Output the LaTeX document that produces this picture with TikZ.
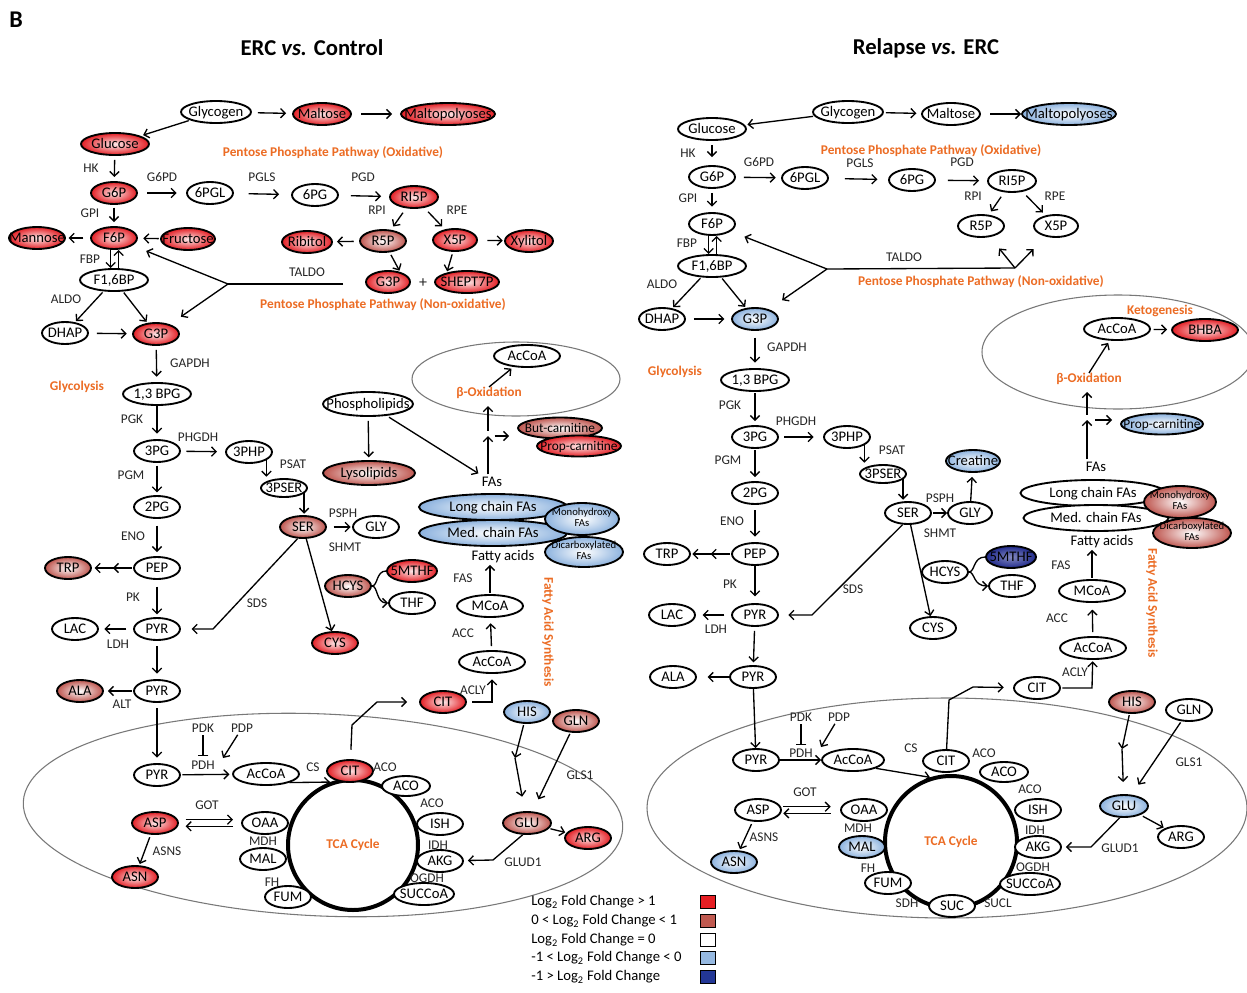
\documentclass[tikz,border=0pt]{standalone}
\usepackage{fontspec}
\setmainfont{Carlito}
\usetikzlibrary{shapes.geometric,arrows.meta}
\definecolor{hiR}{RGB}{228,30,36}
\definecolor{midR}{RGB}{190,85,78}
\definecolor{loB}{RGB}{140,178,222}
\definecolor{vloB}{RGB}{32,42,140}
\definecolor{orng}{RGB}{236,108,36}
\definecolor{mito}{RGB}{120,120,120}
\newcommand\zt[1]{\raisebox{-0.33em}[0pt][0pt]{\makebox[0pt]{#1}}}
\newcommand\ztt[1]{\raisebox{-0.25em}[0pt][0pt]{\makebox[0pt]{\begin{tabular}{@{}c@{}}#1\end{tabular}}}}
\newcommand\mnode[4]{\node[met,#1] (#2) at (#3) {\zt{#4}};}
\newcommand\mnodeB[4]{\node[met,#1] (#2) at (#3) {\ztt{#4}};}
\newcommand\lab[3]{\node[lab] (#1) at (#2) {#3};}
\newcommand\ora[4][]{\node[ora,#1] (#2) at (#3) {#4};}
\tikzset{
 met/.style={ellipse, draw, line width=1.4pt, fill=white, inner sep=0pt, minimum height=16.5pt, minimum width=34.5pt, font=\fontsize{11}{12}\selectfont},
 mw/.style={minimum width=#1*0.75pt},
 mh/.style={minimum height=#1*0.75pt},
 cHi/.style={shade, shading=radial, inner color=hiR!10!white, outer color=hiR},
 cMid/.style={shade, shading=radial, inner color=white, outer color=midR},
 cLo/.style={shade, shading=radial, inner color=white, outer color=loB},
 cVlo/.style={shade, shading=radial, inner color=vloB!55!white, outer color=vloB},
 fsmall/.style={font=\fontsize{8}{8.5}\selectfont},
 fsten/.style={font=\fontsize{10}{11}\selectfont},
 lab/.style={inner sep=0pt, font=\fontsize{10}{11}\selectfont, text=black!85},
 ora/.style={inner sep=0pt, font=\bfseries\fontsize{10}{11}\selectfont, text=orng},
 txt/.style={inner sep=0pt, font=\fontsize{11}{12}\selectfont},
 arr/.style={line width=1pt, -{Straight Barb[length=3.5pt,width=7pt]}},
 ln/.style={line width=1pt},
 dbl/.style={line width=1pt, -{Straight Barb[length=3.5pt,width=7pt,sep=9pt]Straight Barb[length=3.5pt,width=7pt]}},
 inh/.style={line width=1pt, -{Bar[width=8pt]}},
 mitoE/.style={draw=mito, line width=0.8pt},
 tca/.style={circle, draw, line width=3pt, inner sep=0pt, font=\bfseries\fontsize{10}{11}\selectfont, text=orng},
 swatch/.style={draw, line width=0.6pt, minimum width=11pt, minimum height=10pt, inner sep=0pt},
 leg/.style={inner sep=0pt, anchor=west, font=\fontsize{11}{12}\selectfont},
 sa/.style={shorten <=#1},
 sb/.style={shorten >=#1},
}
\begin{document}
\begin{tikzpicture}[x=0.75pt,y=-0.75pt]
\useasboundingbox (0,0) rectangle (1247,993);
\fill[white] (0,0) rectangle (1247,993);

% ---------- titles
\node[inner sep=0pt, font=\bfseries\fontsize{18}{20}\selectfont] (B) at (16,20) {B};
\node[inner sep=0pt, font=\bfseries\fontsize{17}{20}\selectfont] (T1) at (312,48) {ERC \textit{vs.} Control};
\node[inner sep=0pt, font=\bfseries\fontsize{17}{20}\selectfont] (T2) at (926,48) {Relapse \textit{vs.} ERC};

% ---------- compartments
\draw[mitoE, rotate around={-2.5:(323,815)}] (323,815) ellipse [x radius=300, y radius=101];
\draw[mitoE] (947,808) ellipse [x radius=300, y radius=110];
\draw[mitoE] (516,379) ellipse [x radius=104, y radius=37];
\draw[mitoE] (1118,352) ellipse [x radius=136, y radius=57];
\node[tca, minimum size=97.5pt] (LTCA) at (353,845) {TCA Cycle};
\node[tca, minimum size=99pt] (RTCA) at (951,842) {TCA Cycle};

% =================== LEFT PANEL ===================
\mnode{mw=70}{LGlyc}{216,112}{Glycogen}
\mnode{mw=58,cHi}{LMalt}{322,114}{Maltose}
\mnode{mw=94,cHi}{LMaltp}{448,114}{Maltopolyoses}
\mnode{mw=68,cHi}{LGlc}{115,144}{Glucose}
\mnode{mw=46,cHi}{LG6P}{114,193}{G6P}
\mnode{mw=46}{L6PGL}{210,193}{6PGL}
\mnode{mw=46}{L6PG}{315,195}{6PG}
\mnode{mw=48,cHi}{LRI5P}{414,197}{RI5P}
\mnode{mw=46,cMid}{LR5P}{383,241}{R5P}
\mnode{mw=44,cHi}{LX5P}{455,240}{X5P}
\mnode{mw=50,cHi}{LRib}{307,242}{Ribitol}
\mnode{mw=48,cHi}{LXyl}{529,241}{Xylitol}
\mnode{mw=44,cHi}{LG3Pp}{388,282}{G3P}
\mnode{mw=64,cHi}{LSH7P}{467,282}{SHEPT7P}
\mnode{mw=56,cHi}{LMan}{37,238}{Mannose}
\mnode{mw=46,cHi}{LF6P}{114,238}{F6P}
\mnode{mw=54,cHi}{LFru}{188,239}{Fructose}
\mnode{mw=68}{LF16}{114,280}{F1,6BP}
\mnode{mw=46}{LDHAP}{65,333}{DHAP}
\mnode{mw=46,cHi}{LG3P}{156,334}{G3P}
\mnode{mw=68}{LBPG}{157,394}{1,3 BPG}
\mnode{mw=46}{L3PG}{157,451}{3PG}
\mnode{mw=46}{L3PHP}{249,452}{3PHP}
\mnode{mw=46,mh=18}{L3PSER}{284,488}{3PSER}
\mnode{mw=46,cMid}{LSER}{303,527}{SER}
\mnode{mw=46}{LGLY}{376,527}{GLY}
\mnode{mw=46}{L2PG}{157,507}{2PG}
\mnode{mw=46}{LPEP}{157,568}{PEP}
\mnode{mw=46,cMid}{LTRP}{68,568}{TRP}
\mnode{mw=46}{LPYR}{157,629}{PYR}
\mnode{mw=46}{LLAC}{75,629}{LAC}
\mnode{mw=46,cHi}{LCYS}{335,643}{CYS}
\mnode{mw=46}{LPYR2}{157,691}{PYR}
\mnode{mw=46,cMid}{LALA}{80,691}{ALA}
\mnode{mw=46}{LPYR3}{157,775}{PYR}
\mnode{mw=66}{LAcCoA}{266,774}{AcCoA}
\mnode{mw=46,cHi}{LCIT}{350,771}{CIT}
\mnode{mw=48,mh=20}{LACO}{406,786}{ACO}
\mnode{mw=46}{LISH}{440,824}{ISH}
\mnode{mw=46}{LAKG}{440,861}{AKG}
\mnode{mw=60}{LSUCCoA}{424,894}{SUCCoA}
\mnode{mw=46}{LOAA}{265,823}{OAA}
\mnode{mw=46}{LMAL}{263,859}{MAL}
\mnode{mw=46}{LFUM}{288,897}{FUM}
\mnode{mw=46,cHi}{LASP}{155,823}{ASP}
\mnode{mw=46,cHi}{LASN}{135,877}{ASN}
\mnode{mw=46,cHi}{LCIT2}{443,702}{CIT}
\mnode{mw=66}{LAcCoA2}{492,662}{AcCoA}
\mnode{mw=66}{LMCoA}{490,606}{MCoA}
\mnode{mw=148,mh=26,cLo}{LLong}{493,507}{Long chain FAs}
\mnode{mw=148,mh=26,cLo}{LMed}{493,533}{Med. chain FAs}
\mnodeB{mw=74,mh=32,cLo,fsmall}{LMono}{582,519}{Monohydroxy\\FAs}
\mnodeB{mw=78,mh=30,cLo,fsmall}{LDicarb}{584,552}{Dicarboxylated\\FAs}
\mnode{mw=84,mh=21,cMid,fsten}{LBut}{560,428}{But-carnitine}
\mnode{mw=84,mh=21,cHi,fsten}{LProp}{579,446}{Prop-carnitine}
\mnode{mw=66}{LAcCoA3}{527,356}{AcCoA}
\mnode{mw=90,mh=24}{LPhos}{368,404}{Phospholipids}
\mnode{mw=92,mh=24,cMid}{LLyso}{369,473}{Lysolipids}
\mnode{mw=46,cMid}{LHCYS}{348,586}{HCYS}
\mnode{mw=50,cHi}{L5MTHF}{412,571}{5MTHF}
\mnode{mw=46}{LTHF}{412,603}{THF}
\mnode{mw=46,cLo}{LHIS}{527,712}{HIS}
\mnode{mw=46,cMid}{LGLN}{576,721}{GLN}
\mnode{mw=48,cMid}{LGLU}{527,823}{GLU}
\mnode{mw=46,cHi}{LARG}{588,838}{ARG}
\node[txt] (LFAs) at (492,482) {FAs};
\node[txt] (LFAtext) at (503,557) {Fatty acids};

% left labels
\lab{LlHK}{91,168}{HK}
\lab{LlG6PD}{162,177}{G6PD}
\lab{LlPGLS}{262,177}{PGLS}
\lab{LlPGD}{363,177}{PGD}
\lab{LlRPI}{377,210}{RPI}
\lab{LlRPE}{457,210}{RPE}
\lab{LlTALDO}{307,272}{TALDO}
\lab{LlGPI}{90,213}{GPI}
\lab{LlFBP}{90,259}{FBP}
\lab{LlALDO}{66,299}{ALDO}
\lab{LlGAPDH}{190,363}{GAPDH}
\lab{LlPGK}{132,419}{PGK}
\lab{LlPHGDH}{198,437}{PHGDH}
\lab{LlPSAT}{293,464}{PSAT}
\lab{LlPGM}{131,475}{PGM}
\lab{LlENO}{133,536}{ENO}
\lab{LlPSPH}{343,513}{PSPH}
\lab{LlSHMT}{345,547}{SHMT}
\lab{LlPK}{133,597}{PK}
\lab{LlSDS}{257,603}{SDS}
\lab{LlLDH}{118,644}{LDH}
\lab{LlALT}{122,704}{ALT}
\lab{LPDK}{203,728}{PDK}
\lab{LPDP}{242,728}{PDP}
\lab{LlPDH}{203,765}{PDH}
\lab{LlCS}{313,767}{CS}
\lab{LlACOa}{385,767}{ACO}
\lab{LlACOb}{432,803}{ACO}
\lab{LlIDH}{438,845}{IDH}
\lab{LlOGDH}{427,878}{OGDH}
\lab{LlGOT}{207,805}{GOT}
\lab{LlMDH}{263,841}{MDH}
\lab{LlFH}{272,882}{FH}
\lab{LlASNS}{167,851}{ASNS}
\lab{LlACC}{463,633}{ACC}
\lab{LlFAS}{463,578}{FAS}
\lab{LlACLY}{473,690}{ACLY}
\lab{LlGLS}{580,775}{GLS1}
\lab{LlGLUD}{523,862}{GLUD1}
\node[lab, font=\fontsize{12}{12}\selectfont] (Lplus) at (423,283) {+};
\ora{LoPPPa}{333,153}{Pentose Phosphate Pathway (Oxidative)}
\ora{LoPPPb}{383,305}{Pentose Phosphate Pathway (Non-oxidative)}
\ora{LoGly}{77,387}{Glycolysis}
\ora{Lbeta}{489,393}{β-Oxidation}
\ora[rotate=-90]{LoFAS}{548,632}{Fatty Acid Synthesis}

% left coordinates
\coordinate (Ltald) at (343,284);
\coordinate (Lfork) at (228,284);
\coordinate (Lsds) at (213,629);
\coordinate (LpdkE) at (203,756);
\coordinate (LpdpE) at (223,758);
\coordinate (Lcb1) at (352,725);
\coordinate (Lcb2) at (377,702);
\coordinate (Lacly) at (492,702);
\coordinate (Lbx) at (488,436);
\coordinate (Lbtop) at (488,406);
\coordinate (LhisM) at (515,758);
\coordinate (Lglud) at (493,860);

% left connectors
\draw[arr,sa=4.5pt,sb=4.5pt] (LGlyc) -- (LMalt);
\draw[arr,sa=7pt,sb=6pt] (LMalt) -- (LMaltp);
\draw[arr,sa=1pt,sb=2pt] (LGlyc) -- (LGlc);
\draw[arr,sa=3pt,sb=3pt] (LGlc) -- (LG6P);
\draw[arr,sa=7pt,sb=7pt] (LG6P) -- (L6PGL);
\draw[arr,sa=11pt,sb=9pt] (L6PGL) -- (L6PG);
\draw[arr,sa=9pt,sb=6pt] (L6PG) -- (LRI5P);
\draw[arr,sa=4pt,sb=3pt] (LRI5P) -- (LR5P);
\draw[arr,sa=4pt,sb=3pt] (LRI5P) -- (LX5P);
\draw[arr,sa=4pt,sb=3pt] (LR5P) -- (LRib);
\draw[arr,sa=7pt,sb=1pt] (LX5P) -- (LXyl);
\draw[arr,sa=2pt,sb=1pt] (LR5P.-60) -- (LG3Pp.40);
\draw[arr,sa=2pt,sb=1pt] (LX5P.-100) -- (LSH7P.155);
\draw[ln] (Ltald) -- (Lfork);
\draw[arr,sb=11pt] (Lfork) -- (LF6P);
\draw[arr,sb=10pt] (Lfork) -- (LG3P);
\draw[arr,sa=5pt,sb=2pt] (LF6P) -- (LMan);
\draw[arr,sa=1pt,sb=4pt] (LFru) -- (LF6P);
\draw[arr,sa=2pt,sb=3pt] (LG6P) -- (LF6P);
\draw[arr] ([xshift=-2.5pt]LF6P.south) -- ([xshift=-2.5pt]LF16.north);
\draw[arr] ([xshift=3.5pt]LF16.north) -- ([xshift=3.5pt]LF6P.south);
\draw[arr,sa=1pt,sb=1pt] (LF16) -- (LDHAP);
\draw[arr,sa=1pt,sb=1pt] (LF16) -- (LG3P);
\draw[arr,sa=6pt,sb=4pt] (LDHAP) -- (LG3P);
\draw[arr,sa=3pt,sb=4pt] (LG3P) -- (LBPG);
\draw[arr,sb=4pt] (LBPG) -- (L3PG);
\draw[arr,sa=4pt,sb=6pt] (L3PG) -- (L3PHP);
\draw[arr,sb=1pt] (L3PHP.-25) -- (L3PHP.-25 |- L3PSER.north);
\draw[arr,sb=1pt] (L3PSER.-15) -- (L3PSER.-15 |- LSER.north);
\draw[arr,sa=5pt,sb=1pt] (LSER) -- (LGLY);
\draw[arr,sa=2pt,sb=2pt] (L3PG) -- (L2PG);
\draw[arr,sa=5pt,sb=3pt] (L2PG) -- (LPEP);
\draw[dbl,sa=1pt,sb=2pt] (LPEP) -- (LTRP);
\draw[arr,sa=5pt,sb=2pt] (LPEP) -- (LPYR);
\draw[arr,sa=5pt,sb=4pt] (LPYR) -- (LLAC);
\draw[arr] (LSER) -- (LCYS);
\draw[arr,sb=8pt] (LSER.-115) -- (Lsds) -- (LPYR);
\draw[arr,sa=4pt,sb=4pt] (LPYR) -- (LPYR2);
\draw[arr,sa=1pt,sb=3pt] (LPYR2) -- (LALA);
\draw[arr,sa=4pt,sb=4pt] (LPYR2) -- (LPYR3);
\draw[inh,sa=2pt] (LPDK) -- (LpdkE);
\draw[arr,sa=2pt] (LPDP) -- (LpdpE);
\draw[arr,sa=1pt,sb=2pt] (LPYR3) -- (LAcCoA);
\draw[arr] (LAcCoA.-20) -- (LTCA.110);
\draw[arr,sa=7pt,sb=9pt] (LCIT) -- (Lcb1) -- (Lcb2) -- (LCIT2);
\draw[arr,sa=4pt,sb=4pt] (LCIT2) -- (Lacly) -- (LAcCoA2);
\draw[arr,sa=3pt,sb=4pt] (LAcCoA2) -- (LMCoA);
\draw[arr,sa=1pt,sb=1pt] (LMCoA.north) -- (LMCoA.north |- LFAtext.south);
\draw[arr,sa=2pt] (Lbx |- LFAs.north) -- (Lbx);
\draw[arr,sa=4pt] (Lbx) -- (Lbtop);
\draw[arr,sa=5pt,sb=6pt] (Lbx) -- (Lbx -| LBut.west);
\draw[arr,sb=2pt] (Lbeta.north) -- (LAcCoA3);
\draw[arr,sa=3pt,sb=2pt] (LPhos) -- (LLyso);
\draw[arr,sa=2pt,sb=5pt] (LPhos) -- (LFAs);
\draw[ln] (LHCYS.east) .. controls (378,586) and (376,571) .. (L5MTHF.west);
\draw[arr] (LHCYS.east) .. controls (378,586) and (376,603) .. (LTHF.west);
\draw[arr,sa=1pt] (LHIS) -- (LhisM);
\draw[arr,sb=11pt] (LhisM) -- (LGLU);
\draw[arr,sa=1pt,sb=10pt] (LGLN) -- (LGLU);
\draw[arr,sa=1pt,sb=1pt] (LGLU) -- (LARG);
\draw[arr,sb=3pt] (LGLU.-110) -- (Lglud) -- (LAKG);
\draw[arr,sa=5pt,sb=6pt] ([yshift=2.5pt]LASP.east) -- ([yshift=2.5pt]LOAA.west);
\draw[arr,sa=6pt,sb=5pt] ([yshift=-2.5pt]LOAA.west) -- ([yshift=-2.5pt]LASP.east);
\draw[arr,sa=2pt,sb=1pt] (LASP) -- (LASN);

% =================== RIGHT PANEL ===================
\mnode{mw=70}{RGlyc}{848,112}{Glycogen}
\mnode{mw=58}{RMalt}{951,114}{Maltose}
\mnode{mw=94,cLo}{RMaltp}{1069,114}{Maltopolyoses}
\mnode{mw=68}{RGlc}{712,129}{Glucose}
\mnode{mw=46}{RG6P}{712,177}{G6P}
\mnode{mw=46}{R6PGL}{805,178}{6PGL}
\mnode{mw=46}{R6PG}{912,180}{6PG}
\mnode{mw=48}{RRI5P}{1012,181}{RI5P}
\mnode{mw=46}{RR5P}{981,226}{R5P}
\mnode{mw=44}{RX5P}{1056,226}{X5P}
\mnode{mw=46}{RF6P}{712,224}{F6P}
\mnode{mw=68}{RF16}{712,266}{F1,6BP}
\mnode{mw=46}{RDHAP}{662,319}{DHAP}
\mnode{mw=46,cLo}{RG3P}{755,319}{G3P}
\mnode{mw=68}{RBPG}{755,380}{1,3 BPG}
\mnode{mw=46}{R3PG}{755,437}{3PG}
\mnode{mw=46}{R3PHP}{847,437}{3PHP}
\mnode{mw=46,mh=18}{R3PSER}{883,474}{3PSER}
\mnode{mw=46}{RSER}{908,513}{SER}
\mnode{mw=44}{RGLY}{970,513}{GLY}
\mnode{mw=54,cLo}{RCreat}{973,461}{Creatine}
\mnode{mw=46}{R2PG}{755,493}{2PG}
\mnode{mw=46}{RPEP}{755,554}{PEP}
\mnode{mw=46}{RTRP}{667,554}{TRP}
\mnode{mw=46}{RPYR}{755,615}{PYR}
\mnode{mw=46}{RLAC}{672,615}{LAC}
\mnode{mw=46}{RCYS}{933,628}{CYS}
\mnode{mw=46}{RHCYS}{945,572}{HCYS}
\mnode{mw=50,cVlo}{R5MTHF}{1011,557}{5MTHF}
\mnode{mw=46}{RTHF}{1012,586}{THF}
\mnode{mw=46}{RPYR2}{753,677}{PYR}
\mnode{mw=46}{RALA}{673,677}{ALA}
\mnode{mw=46}{RPYR3}{756,760}{PYR}
\mnode{mw=62}{RAcCoA}{853,760}{AcCoA}
\mnode{mw=46}{RCIT}{946,761}{CIT}
\mnode{mw=48,mh=20}{RACO}{1004,772}{ACO}
\mnode{mw=46}{RISH}{1038,810}{ISH}
\mnode{mw=46}{RAKG}{1038,847}{AKG}
\mnode{mw=60}{RSUCCoA}{1030,884}{SUCCoA}
\mnode{mw=46}{RSUC}{952,906}{SUC}
\mnode{mw=46}{RFUM}{888,883}{FUM}
\mnode{mw=46,cLo}{RMAL}{862,847}{MAL}
\mnode{mw=46}{ROAA}{864,810}{OAA}
\mnode{mw=46}{RASP}{758,810}{ASP}
\mnode{mw=46,cLo}{RASN}{734,862}{ASN}
\mnode{mw=46}{RCIT2}{1037,688}{CIT}
\mnode{mw=66}{RAcCoA2}{1093,648}{AcCoA}
\mnode{mw=66}{RMCoA}{1092,591}{MCoA}
\mnode{mw=145,mh=26}{RLong}{1093,493}{Long chain FAs}
\mnode{mw=145,mh=26}{RMed}{1096,518}{Med. chain FAs}
\mnodeB{mw=72,mh=32,cMid,fsmall}{RMono}{1180,502}{Monohydroxy\\FAs}
\mnodeB{mw=78,mh=30,cMid,fsmall}{RDicarb}{1192,533}{Dicarboxylated\\FAs}
\mnode{mw=82,mh=21,cLo,fsten}{RProp}{1162,424}{Prop-carnitine}
\mnode{mw=66}{RAcCoA3}{1117,329}{AcCoA}
\mnode{mw=66,cHi}{RBHBA}{1205,330}{BHBA}
\mnode{mw=46,cMid}{RHIS}{1132,702}{HIS}
\mnode{mw=46}{RGLN}{1189,710}{GLN}
\mnode{mw=48,cLo}{RGLU}{1124,806}{GLU}
\mnode{mw=46}{RARG}{1181,837}{ARG}
\node[txt] (RFAs) at (1096,467) {FAs};
\node[txt] (RFAtext) at (1102,542) {Fatty acids};

% right labels
\lab{RlHK}{688,153}{HK}
\lab{RlG6PD}{759,162}{G6PD}
\lab{RlPGLS}{860,163}{PGLS}
\lab{RlPGD}{962,162}{PGD}
\lab{RlRPI}{973,196}{RPI}
\lab{RlRPE}{1055,196}{RPE}
\lab{RlGPI}{688,198}{GPI}
\lab{RlFBP}{687,243}{FBP}
\lab{RlALDO}{662,284}{ALDO}
\lab{RlTALDO}{904,257}{TALDO}
\lab{RlGAPDH}{787,347}{GAPDH}
\lab{RlPGK}{730,405}{PGK}
\lab{RlPHGDH}{796,421}{PHGDH}
\lab{RlPSAT}{892,450}{PSAT}
\lab{RlPGM}{728,460}{PGM}
\lab{RlENO}{732,521}{ENO}
\lab{RlPSPH}{940,498}{PSPH}
\lab{RlSHMT}{940,533}{SHMT}
\lab{RlPK}{730,584}{PK}
\lab{RlSDS}{853,589}{SDS}
\lab{RlLDH}{716,629}{LDH}
\lab{RPDK}{801,717}{PDK}
\lab{RPDP}{839,717}{PDP}
\lab{RlPDH}{801,753}{PDH}
\lab{RlCS}{911,748}{CS}
\lab{RlACOa}{984,753}{ACO}
\lab{RlACOb}{1030,789}{ACO}
\lab{RlIDH}{1035,830}{IDH}
\lab{RlOGDH}{1033,867}{OGDH}
\lab{RlSDH}{907,903}{SDH}
\lab{RlSUCL}{998,903}{SUCL}
\lab{RlFH}{868,868}{FH}
\lab{RlMDH}{858,828}{MDH}
\lab{RlGOT}{805,792}{GOT}
\lab{RlASNS}{764,837}{ASNS}
\lab{RlACC}{1057,618}{ACC}
\lab{RlFAS}{1061,565}{FAS}
\lab{RlACLY}{1075,672}{ACLY}
\lab{RlGLS}{1189,762}{GLS1}
\lab{RlGLUD}{1120,848}{GLUD1}
\ora{RoPPPa}{931,151}{Pentose Phosphate Pathway (Oxidative)}
\ora{RoPPPb}{981,282}{Pentose Phosphate Pathway (Non-oxidative)}
\ora{RoGly}{675,372}{Glycolysis}
\ora{RoKeto}{1160,311}{Ketogenesis}
\ora{Rbeta}{1089,379}{β-Oxidation}
\ora[rotate=-90]{RoFAS}{1152,603}{Fatty Acid Synthesis}

% right coordinates
\coordinate (Rfork) at (827,269);
\coordinate (Rv) at (1015,268);
\coordinate (Rsds) at (812,615);
\coordinate (RpdkE) at (801,745);
\coordinate (RpdpE) at (821,747);
\coordinate (Rcb1) at (949,700);
\coordinate (Rcb2) at (973,687);
\coordinate (Racly) at (1092,688);
\coordinate (Rbx) at (1087,420);
\coordinate (Rbtop) at (1087,392);
\coordinate (RhisM) at (1122,749);
\coordinate (Rglud) at (1091,847);

% right connectors
\draw[arr,sa=1.5pt,sb=3.5pt] (RGlyc) -- (RMalt);
\draw[arr,sa=7pt] (RMalt) -- (RMaltp);
\draw[arr,sa=1pt,sb=2pt] (RGlyc) -- (RGlc);
\draw[arr,sa=3pt,sb=6pt] (RGlc) -- (RG6P);
\draw[arr,sa=6pt,sb=4pt] (RG6P) -- (R6PGL);
\draw[arr,sa=12pt,sb=8pt] (R6PGL) -- (R6PG);
\draw[arr,sa=9pt,sb=6pt] (R6PG) -- (RRI5P);
\draw[arr,sa=4pt,sb=3pt] (RRI5P) -- (RR5P);
\draw[arr,sa=4pt,sb=3pt] (RRI5P) -- (RX5P);
\draw[ln] (Rfork) -- (Rv);
\draw[arr,sb=11pt] (Rv) -- (RR5P);
\draw[arr,sb=13pt] (Rv) -- (RX5P);
\draw[arr,sb=11pt] (Rfork) -- (RF6P);
\draw[arr,sb=12pt] (Rfork) -- (RG3P);
\draw[arr,sa=3pt,sb=4pt] (RG6P) -- (RF6P);
\draw[arr] ([xshift=-2.5pt]RF6P.south) -- ([xshift=-2.5pt]RF16.north);
\draw[arr] ([xshift=3.5pt]RF16.north) -- ([xshift=3.5pt]RF6P.south);
\draw[arr,sa=1pt,sb=1pt] (RF16) -- (RDHAP);
\draw[arr,sa=1pt,sb=1pt] (RF16) -- (RG3P);
\draw[arr,sa=6pt,sb=5pt] (RDHAP) -- (RG3P);
\draw[arr,sa=5pt,sb=4pt] (RG3P) -- (RBPG);
\draw[arr,sa=1pt,sb=3pt] (RBPG) -- (R3PG);
\draw[arr,sa=4pt,sb=7pt] (R3PG) -- (R3PHP);
\draw[arr,sb=1pt] (R3PHP.-25) -- (R3PHP.-25 |- R3PSER.north);
\draw[arr,sb=1pt] (R3PSER.-15) -- (R3PSER.-15 |- RSER.north);
\draw[arr,sa=1pt] (RSER) -- (RGLY);
\draw[arr,sb=3pt] (RGLY) -- (RCreat);
\draw[arr,sa=1pt,sb=3pt] (R3PG) -- (R2PG);
\draw[arr,sa=4pt,sb=4pt] (R2PG) -- (RPEP);
\draw[dbl,sa=1pt,sb=1pt] (RPEP) -- (RTRP);
\draw[arr,sb=5pt] (RPEP) -- (RPYR);
\draw[arr,sa=5pt,sb=5pt] (RPYR) -- (RLAC);
\draw[arr,sb=7pt] (RSER.-115) -- (Rsds) -- (RPYR);
\draw[arr] (RSER) -- (RCYS);
\draw[ln] (RHCYS.east) .. controls (975,572) and (973,557) .. (R5MTHF.west);
\draw[arr] (RHCYS.east) .. controls (975,572) and (973,586) .. (RTHF.west);
\draw[arr,sa=3pt,sb=2pt] (RPYR) -- (RPYR2);
\draw[arr,sb=8pt] (RPYR2) -- (RALA);
\draw[arr] (RPYR2) -- (RPYR3);
\draw[inh,sa=2pt] (RPDK) -- (RpdkE);
\draw[arr,sa=2pt] (RPDP) -- (RpdpE);
\draw[arr] (RPYR3) -- (RAcCoA);
\draw[arr] (RAcCoA.-20) -- (RTCA.108);
\draw[arr,sb=7pt] (RCIT) -- (Rcb1) -- (Rcb2) -- (RCIT2);
\draw[arr,sa=1pt,sb=1pt] (RCIT2) -- (Racly) -- (RAcCoA2);
\draw[arr,sa=3pt,sb=5pt] (RAcCoA2) -- (RMCoA);
\draw[arr,sa=1pt,sb=1pt] (RMCoA.north) -- (RMCoA.north |- RFAtext.south);
\draw[arr,sa=2pt] (Rbx |- RFAs.north) -- (Rbx);
\draw[arr,sa=4pt] (Rbx) -- (Rbtop);
\draw[arr,sa=6pt,sb=6pt] (Rbx) -- (Rbx -| RProp.west);
\draw[arr,sb=2pt] (Rbeta.north) -- (RAcCoA3);
\draw[arr,sa=2pt,sb=3pt] (RAcCoA3) -- (RBHBA);
\draw[arr,sa=1pt] (RHIS) -- (RhisM);
\draw[arr,sb=9pt] (RhisM) -- (RGLU);
\draw[arr,sa=1pt,sb=9pt] (RGLN) -- (RGLU);
\draw[arr,sa=2pt,sb=1pt] (RGLU) -- (RARG);
\draw[arr,sb=3pt] (RGLU.-110) -- (Rglud) -- (RAKG);
\draw[arr,sa=1pt,sb=7pt] ([yshift=2.5pt]RASP.east) -- ([yshift=2.5pt]ROAA.west);
\draw[arr,sa=7pt,sb=1pt] ([yshift=-2.5pt]ROAA.west) -- ([yshift=-2.5pt]RASP.east);
\draw[arr,sa=2pt,sb=1pt] (RASP) -- (RASN);

% =================== LEGEND ===================
\node[leg] (G1) at (531,902) {Log\textsubscript{2} Fold Change > 1};
\node[leg] (G2) at (531,921) {0 < Log\textsubscript{2} Fold Change < 1};
\node[leg] (G3) at (531,940) {Log\textsubscript{2} Fold Change = 0};
\node[leg] (G4) at (531,958) {-1 < Log\textsubscript{2} Fold Change < 0};
\node[leg] (G5) at (531,977) {-1 > Log\textsubscript{2} Fold Change};
\node[swatch, fill={rgb,255:red,230;green,30;blue,35}] (S1) at (708,902) {};
\node[swatch, fill={rgb,255:red,192;green,90;blue,80}] (S2) at (708,921) {};
\node[swatch, fill=white] (S3) at (708,940) {};
\node[swatch, fill={rgb,255:red,150;green,185;blue,225}] (S4) at (708,958) {};
\node[swatch, fill={rgb,255:red,35;green,55;blue,150}] (S5) at (708,977) {};
\end{tikzpicture}
\end{document}
